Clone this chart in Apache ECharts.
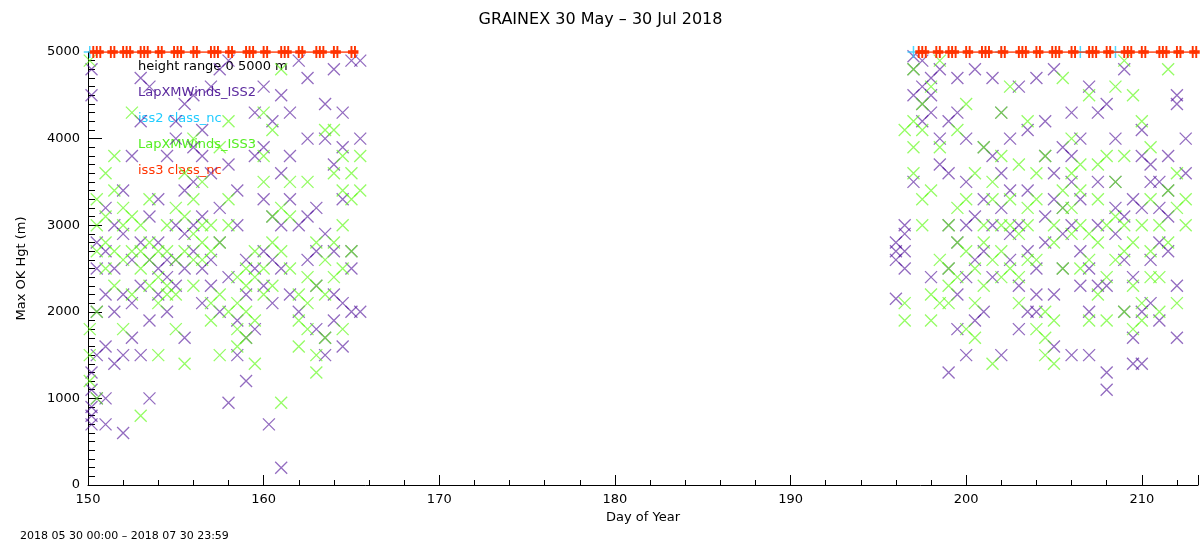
<!DOCTYPE html>
<html><head><meta charset="utf-8">
<script src="https://cdn.jsdelivr.net/npm/echarts@6/dist/echarts.min.js"></script>
<style>html,body{margin:0;padding:0;background:#fff}#c{width:1201px;height:548px}</style>
</head><body><div id="c"></div>
<script>
const xTicks=[150,160,170,180,190,200,210];
const yTicks=[0,1000,2000,3000,4000,5000];
const purpleCols=[[150.2,[700,900,1100,1300,800,4500,4800]],[150.5,[1000,1500,2000,2500,2800]],[151,[1000,1600,2200,2700,3200,700]],[151.5,[1400,2000,2500,3000]],[152,[600,1500,2200,2900,3400]],[152.5,[1700,2100,2600,3800]],[153,[1500,2300,2800,4200,4700]],[153.5,[1000,1900,2600,3100,4600]],[154,[2200,2500,2800,3300]],[154.5,[2000,2400,2600,3800]],[155,[2300,2600,4000,4200,3000]],[155.5,[1700,2500,2900,3400,4400]],[156,[2700,3000,3500,3900,4500]],[156.5,[2100,2500,3100,3800,4100]],[157,[2300,2600,3600,4600]],[157.5,[2000,2800,3200,4800]],[158,[950,2400,3700,4900]],[158.5,[1500,1900,3000,3400]],[159,[1200,1700,2200,2600]],[159.5,[1800,2500,3800,4300]],[160,[2300,2700,3300,3900,4600]],[160.3,[700]],[160.5,[2100,2600,3100,4200]],[161,[200,2500,3000,3600,4500]],[161.5,[2200,3300,3800,4300]],[162,[2000,3000,4900]],[162.5,[2600,3100,4000,4700]],[163,[1800,2300,2700,3200]],[163.5,[1500,1700,2900,4000,4400]],[164,[1900,2200,2700,3700,4800]],[164.5,[1600,2100,3300,3900,4300]],[165,[2000,2500,2700,4900]],[165.5,[2000,4000,4900]],
[196,[2150,2600,2700,2800]],[196.5,[2500,2700,2900,3000]],[197,[4500,4800,4950,3500]],[197.5,[4200,4400,4600,4900]],[198,[2400,4300,4500,4700]],[198.5,[3700,4000,4800]],[199,[1300,2500,3000,3600,4200]],[199.5,[1800,2200,2800,4300,4700]],[200,[2400,3000,3500,4000,1500]],[200.5,[1900,2600,3100,4800]],[201,[2000,2700,3300,3900]],[201.5,[2400,3000,3800,4700]],[202,[3200,3600,4300,1500]],[202.5,[2600,2900,3400,4000]],[203,[1800,2300,3000,4600]],[203.5,[2000,2700,3400,4100]],[204,[2000,2200,2500,4700]],[204.5,[2800,3100,3800,4200]],[205,[1600,2200,3300,3600,4800]],[205.5,[2500,2900,3200,3900]],[206,[3000,3500,3800,4300,1500]],[206.5,[2300,2700,3300,4000]],[207,[1500,2000,2500,4600]],[207.5,[2300,3000,3500,4300]],[208,[1100,1300,2300,4400]],[208.5,[2900,3200,3500,4000]],[209,[2000,2600,3100,4800]],[209.5,[1400,1700,2400,3300]],[210,[1400,2000,3200,3800,4100]],[210.5,[2100,2600,3500,3700]],[211,[1900,2800,3200,3500]],[211.5,[2700,3100,3400,3800]],[212,[1700,2300,4400,4500]],[212.5,[3600,4000]]];
const greenCols=[[150.1,[1200,1500,1800,4900]],[150.5,[2000,2700,3000,3300,1000]],[151,[2500,2800,3100,3600]],[151.5,[2300,2700,3400,3800]],[152,[1800,2600,3000,3200]],[152.5,[2200,2700,3100,4300]],[153,[800,2500,2700,3000]],[153.5,[2300,2600,2800,3300]],[154,[1500,2100,2400,2700]],[154.5,[2200,2300,2700,3000]],[155,[1800,2200,2600,3200]],[155.5,[1400,2700,3100,3600]],[156,[2300,2600,2900,3300,4000]],[156.5,[2600,2800,3000,3500]],[157,[1900,2100,2700,3000]],[157.5,[1500,2200,2800,3900]],[158,[2000,3000,3300,4200]],[158.5,[1600,1800,2100,2400]],[159,[1700,2000,2300,2500]],[159.5,[1400,1900,2400,2700]],[160,[2200,2500,3500,3800,4300]],[160.5,[2300,2800,3100,4100]],[161,[950,2700,3200,4800]],[161.5,[2500,3100,3500]],[162,[1600,1900,2200]],[162.5,[1800,2100,2400,3500]],[163,[1300,1500,2300,2800]],[163.5,[1700,2200,2600,4100]],[164,[2400,2800,3600,4100]],[164.5,[1800,2500,3000,3400,3800]],[165,[2700,3300,3600]],[165.5,[3400,3800]],
[196.5,[1900,2100,4100]],[197,[3600,3900,4200,4800]],[197.5,[3000,3300,4100,4400]],[198,[1900,2200,3400,4600]],[198.5,[2100,2600,3900,4900]],[199,[2100,2300,2500,3000]],[199.5,[2400,2800,3200,4100]],[200,[1800,2700,3300,4400]],[200.5,[1700,2100,2500,3600]],[201,[2300,2800,3000,3900]],[201.5,[1400,2600,3300,3500]],[202,[2400,2700,3000,3800,4300]],[202.5,[2500,3000,3300,4600]],[203,[2100,2400,2900,3700]],[203.5,[2600,3000,3200,4200]],[204,[1800,2600,3300,3600]],[204.5,[1500,1700,2000,3800]],[205,[1400,1900,2800,3000]],[205.5,[2500,3200,3400,4700]],[206,[2900,3200,3600,4000]],[206.5,[2500,3000,3400,3700]],[207,[1900,2600,2900,4500]],[207.5,[2200,2800,3300,3700]],[208,[1900,2400,3000,3800]],[208.5,[2600,3100,3500,4600]],[209,[2000,2700,3000,3800,4900]],[209.5,[1800,2300,2800,4500]],[210,[1900,2100,3000,4200]],[210.5,[2400,2700,3300,3900]],[211,[2000,2400,3000]],[211.5,[2800,3400,4800]],[212,[2100,3200,3600]],[212.5,[3000,3300]]];
const redDays1=[150.3,150.5,150.7,151.3,151.5,152.0,152.2,152.4,153.0,153.2,153.4,154.0,154.2,154.9,155.1,155.3,156.0,156.2,157.0,157.2,157.4,158.0,158.2,159.0,159.2,159.4,160.0,160.2,161.0,161.2,161.4,162.0,162.2,163.0,163.2,163.4,164.0,164.2,165.0,165.2];
const redDays2=[197.3,197.5,197.7,198.3,198.5,199.0,199.2,199.4,200.0,200.2,200.9,201.1,201.3,202.0,202.2,203.0,203.2,203.4,204.0,204.2,204.9,205.1,205.3,206.0,206.2,207.0,207.2,207.4,208.0,208.2,209.0,209.2,209.4,210.0,210.2,211.0,211.2,211.4,212.0,212.2,212.9,213.1];
const cyanDays=[150.1,197.0,202.0,206.5,208.5];
const topVal=5000;

function flat(cols){const o=[];cols.forEach(c=>c[1].forEach(v=>o.push([c[0],v])));return o;}
const X='path://M0,0L10,10M10,0L0,10';
const P='path://M5,0L5,10M0,5L10,5';
const redData=redDays1.map(d=>[d,topVal]).concat([[180,'-']]).concat(redDays2.map(d=>[d,topVal]));
const ch=echarts.init(document.getElementById('c'));
const ff='DejaVu Sans';
ch.setOption({
 animation:false,
 title:{text:'GRAINEX 30 May \u2013 30 Jul 2018',left:'center',top:7,textStyle:{fontFamily:ff,fontSize:16,fontWeight:'normal',color:'#000'}},
 grid:{left:88,right:0,top:52,bottom:63},
 xAxis:{type:'value',min:150,max:213.2,interval:10,name:'Day of Year',nameLocation:'middle',nameGap:26,
  nameTextStyle:{fontFamily:ff,fontSize:13,color:'#000'},
  axisLine:{lineStyle:{color:'#000'}},axisTick:{inside:true,length:10,lineStyle:{color:'#000'}},
  minorTick:{show:true,splitNumber:5,length:5,lineStyle:{color:'#000'}},
  axisLabel:{fontFamily:ff,fontSize:13,color:'#000',formatter:v=>xTicks.includes(v)?v:''},splitLine:{show:false}},
 yAxis:{type:'value',min:0,max:5000,interval:1000,name:'Max OK Hgt (m)',nameLocation:'middle',nameGap:60,
  nameTextStyle:{fontFamily:ff,fontSize:13,color:'#000'},
  axisLine:{show:true,lineStyle:{color:'#000'}},axisTick:{show:true,inside:true,length:14,lineStyle:{color:'#000'}},
  minorTick:{show:true,splitNumber:10,length:7,lineStyle:{color:'#000'}},
  axisLabel:{fontFamily:ff,fontSize:13,color:'#000',formatter:v=>yTicks.includes(v)?v:''},splitLine:{show:false}},
 graphic:[
  {type:'text',left:138,top:60,style:{text:'height range 0 5000 m',fill:'#000',font:'13px DejaVu Sans'}},
  {type:'text',left:138,top:86,style:{text:'LapXMWinds_ISS2',fill:'#5b2a9e',font:'13px DejaVu Sans'}},
  {type:'text',left:138,top:112,style:{text:'iss2 class_nc',fill:'#22ccff',font:'13px DejaVu Sans'}},
  {type:'text',left:138,top:138,style:{text:'LapXMWinds_ISS3',fill:'#55ee22',font:'13px DejaVu Sans'}},
  {type:'text',left:138,top:164,style:{text:'iss3 class_nc',fill:'#ff3300',font:'13px DejaVu Sans'}},
  {type:'text',left:20,top:531,style:{text:'2018 05 30 00:00 \u2013 2018 07 30 23:59',fill:'#000',font:'11px DejaVu Sans'}}
 ],
 series:[
  {type:'scatter',data:flat(purpleCols),symbol:X,symbolSize:12,itemStyle:{color:'none',borderColor:'rgba(75,10,150,0.75)',borderWidth:1.3}},
  {type:'scatter',data:flat(greenCols),symbol:X,symbolSize:12,itemStyle:{color:'none',borderColor:'rgba(100,250,30,0.85)',borderWidth:1.3}},
  {type:'line',data:redData,connectNulls:false,symbol:P,symbolSize:[7,12],showAllSymbol:true,lineStyle:{color:'#ff3300',width:1.5},itemStyle:{color:'none',borderColor:'#ff3300',borderWidth:2.5}},
  {type:'scatter',data:cyanDays.map(d=>[d,topVal]),symbol:P,symbolSize:12,itemStyle:{color:'none',borderColor:'#22ccff',borderWidth:1.5}}
 ]
});
</script></body></html>
